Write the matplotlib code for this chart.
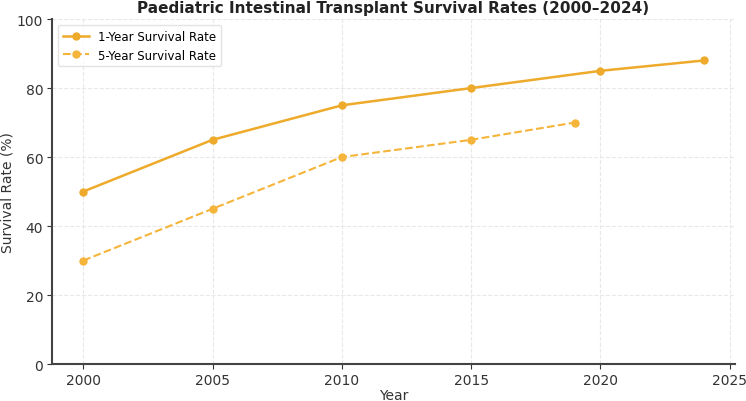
import matplotlib
matplotlib.use("Agg")
import matplotlib.pyplot as plt

years_1 = [2000, 2005, 2010, 2015, 2020, 2024]
rate_1 = [50, 65, 75, 80, 85, 88]
years_5 = [2000, 2005, 2010, 2015, 2019]
rate_5 = [30, 45, 60, 65, 70]

fig = plt.figure(figsize=(7.46, 4.02), dpi=100)
ax = fig.add_axes([0.070, 0.092, 0.915, 0.858])

ax.plot(years_1, rate_1, color="#eeaa2a", lw=1.8, marker="o", ms=5, label="1-Year Survival Rate")
ax.plot(years_5, rate_5, color="#f5b43a", lw=1.5, ls="--", marker="o", ms=5, label="5-Year Survival Rate")

ax.set_ylim(0, 100)
ax.set_xticks([2000, 2005, 2010, 2015, 2020, 2025])
ax.set_yticks([0, 20, 40, 60, 80, 100])
ax.grid(True, color="#e8e8e8", lw=0.8, ls="--")
ax.set_axisbelow(True)
for s in ["top", "right"]:
    ax.spines[s].set_visible(False)
for s in ["left", "bottom"]:
    ax.spines[s].set_color("#444444")
    ax.spines[s].set_linewidth(1.5)
ax.tick_params(colors="#333333", labelsize=10, pad=3)
ax.set_xlabel("Year", fontsize=10, color="#333333", labelpad=1)
ax.set_ylabel("Survival Rate (%)", fontsize=10, color="#333333", labelpad=2)
ax.set_title("Paediatric Intestinal Transplant Survival Rates (2000\u20132024)", fontsize=11, fontweight="bold", color="#222222", pad=5)
ax.legend(loc="upper left", fontsize=8.5, frameon=True, edgecolor="#dddddd", handlelength=2.2)

fig.savefig("out.png", dpi=100)
